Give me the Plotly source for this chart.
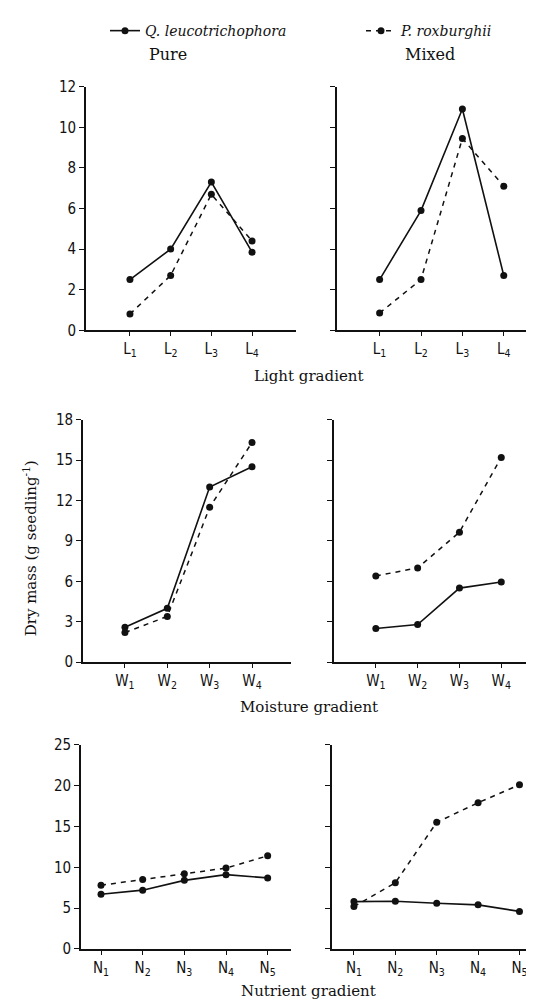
import plotly.graph_objects as go

W, H = 534, 1004

# ---------------- data ----------------
light_cats = ["L<sub>1</sub>", "L<sub>2</sub>", "L<sub>3</sub>", "L<sub>4</sub>"]
moist_cats = ["W<sub>1</sub>", "W<sub>2</sub>", "W<sub>3</sub>", "W<sub>4</sub>"]
nutr_cats = ["N<sub>1</sub>", "N<sub>2</sub>", "N<sub>3</sub>", "N<sub>4</sub>", "N<sub>5</sub>"]

light_q_pure = [2.5, 4.0, 7.3, 3.85]
light_p_pure = [0.8, 2.7, 6.7, 4.4]
light_q_mixed = [2.5, 5.9, 10.9, 2.7]
light_p_mixed = [0.85, 2.5, 9.45, 7.1]

moist_q_pure = [2.6, 4.0, 13.0, 14.5]
moist_p_pure = [2.2, 3.4, 11.5, 16.3]
moist_q_mixed = [2.5, 2.8, 5.5, 5.95]
moist_p_mixed = [6.4, 7.0, 9.65, 15.2]

nutr_q_pure = [6.7, 7.2, 8.4, 9.1, 8.7]
nutr_p_pure = [7.8, 8.5, 9.2, 9.9, 11.4]
nutr_q_mixed = [5.8, 5.85, 5.6, 5.4, 4.6]
nutr_p_mixed = [5.2, 8.1, 15.5, 17.9, 20.1]

light_yticks = [0, 2, 4, 6, 8, 10, 12]
moist_yticks = [0, 3, 6, 9, 12, 15, 18]
nutr_yticks = [0, 5, 10, 15, 20, 25]

series_names = ["Q. leucotrichophora", "P. roxburghii"]

# ---------------- layout helpers (pixel geometry) ----------------
def px_x(a, b):
    return [a / W, b / W]

def px_y(top, bottom):
    return [1 - bottom / H, 1 - top / H]

panels = [
    (light_cats, light_q_pure, light_p_pure, light_yticks, (78, 288), (71, 319), (-1.08, 4.08), True),
    (light_cats, light_q_mixed, light_p_mixed, light_yticks, (329, 533), (71, 319), (-1.03, 3.9), False),
    (moist_cats, moist_q_pure, moist_p_pure, moist_yticks, (75, 283), (410, 657), (-0.99, 3.92), True),
    (moist_cats, moist_q_mixed, moist_p_mixed, moist_yticks, (326, 533), (410, 657), (-1.0, 3.95), False),
    (nutr_cats, nutr_q_pure, nutr_p_pure, nutr_yticks, (73, 283), (741, 949), (-0.48, 4.56), True),
    (nutr_cats, nutr_q_mixed, nutr_p_mixed, nutr_yticks, (324, 533), (741, 949), (-0.53, 4.52), False),
]

fig = go.Figure()
tick_font = dict(family="DejaVu Sans Condensed, DejaVu Sans", size=15, color="#111")
serif = "DejaVu Serif, Liberation Serif, serif"

layout = {}
for k, (cats, q, p, yt, xd, yd, xr, lab) in enumerate(panels):
    n = k + 1
    xa = "x" if n == 1 else f"x{n}"
    ya = "y" if n == 1 else f"y{n}"
    fig.add_trace(go.Scatter(
        x=cats, y=p, xaxis=xa, yaxis=ya, mode="lines+markers",
        name=series_names[1], showlegend=(n == 1), legend="legend2",
        line=dict(color="#111", width=1.5, dash="5px,5px"),
        marker=dict(color="#111", size=7),
    ))
    fig.add_trace(go.Scatter(
        x=cats, y=q, xaxis=xa, yaxis=ya, mode="lines+markers",
        name=series_names[0], showlegend=(n == 1), legend="legend",
        line=dict(color="#111", width=1.6),
        marker=dict(color="#111", size=7),
    ))
    key = "" if n == 1 else str(n)
    layout["xaxis" + key] = dict(
        domain=px_x(*xd), anchor=ya, type="category", range=list(xr),
        showline=True, linecolor="#111", linewidth=1.6, ticks="outside", ticklen=4,
        tickcolor="#111", showgrid=False, zeroline=False, tickfont=tick_font,
    )
    layout["yaxis" + key] = dict(
        domain=px_y(*yd), anchor=xa, range=[0, yt[-1]], tickvals=yt,
        showline=True, linecolor="#111", linewidth=1.6, ticks="outside", ticklen=5,
        tickcolor="#111", showgrid=False, zeroline=False, tickfont=tick_font,
        showticklabels=lab,
    )

fig.update_layout(**layout)

annotations = [
    dict(text="Pure", x=139 / W, y=1 - 38 / H, xanchor="left", yanchor="middle", size=16),
    dict(text="Mixed", x=395 / W, y=1 - 38 / H, xanchor="left", yanchor="middle", size=16),
    dict(text="Light gradient", x=301 / W, y=1 - 366 / H, xanchor="center", yanchor="middle", size=15),
    dict(text="Moisture gradient", x=301 / W, y=1 - 703 / H, xanchor="center", yanchor="middle", size=15),
    dict(text="Nutrient gradient", x=300 / W, y=1 - 992 / H, xanchor="center", yanchor="middle", size=15),
    dict(text="Dry mass (g seedling<sup>-1</sup>)", x=22 / W, y=1 - 541 / H, textangle=-90,
         xanchor="center", yanchor="middle", size=15),
]
for a in annotations:
    s = a.pop("size")
    a.update(xref="paper", yref="paper", showarrow=False, font=dict(family=serif, size=s, color="#111"))

leg_font = dict(family=serif, size=14, color="#111", style="italic")
fig.update_layout(
    width=W, height=H, margin=dict(l=0, r=0, t=0, b=0),
    paper_bgcolor="white", plot_bgcolor="white",
    annotations=annotations,
    showlegend=True,
    legend=dict(x=97 / W, y=1 + 2 / H, xanchor="left", yanchor="top",
                font=leg_font, bgcolor="rgba(0,0,0,0)"),
    legend2=dict(x=353 / W, y=1 + 2 / H, xanchor="left", yanchor="top",
                 font=leg_font, bgcolor="rgba(0,0,0,0)"),
)

fig.write_html("out.html")
